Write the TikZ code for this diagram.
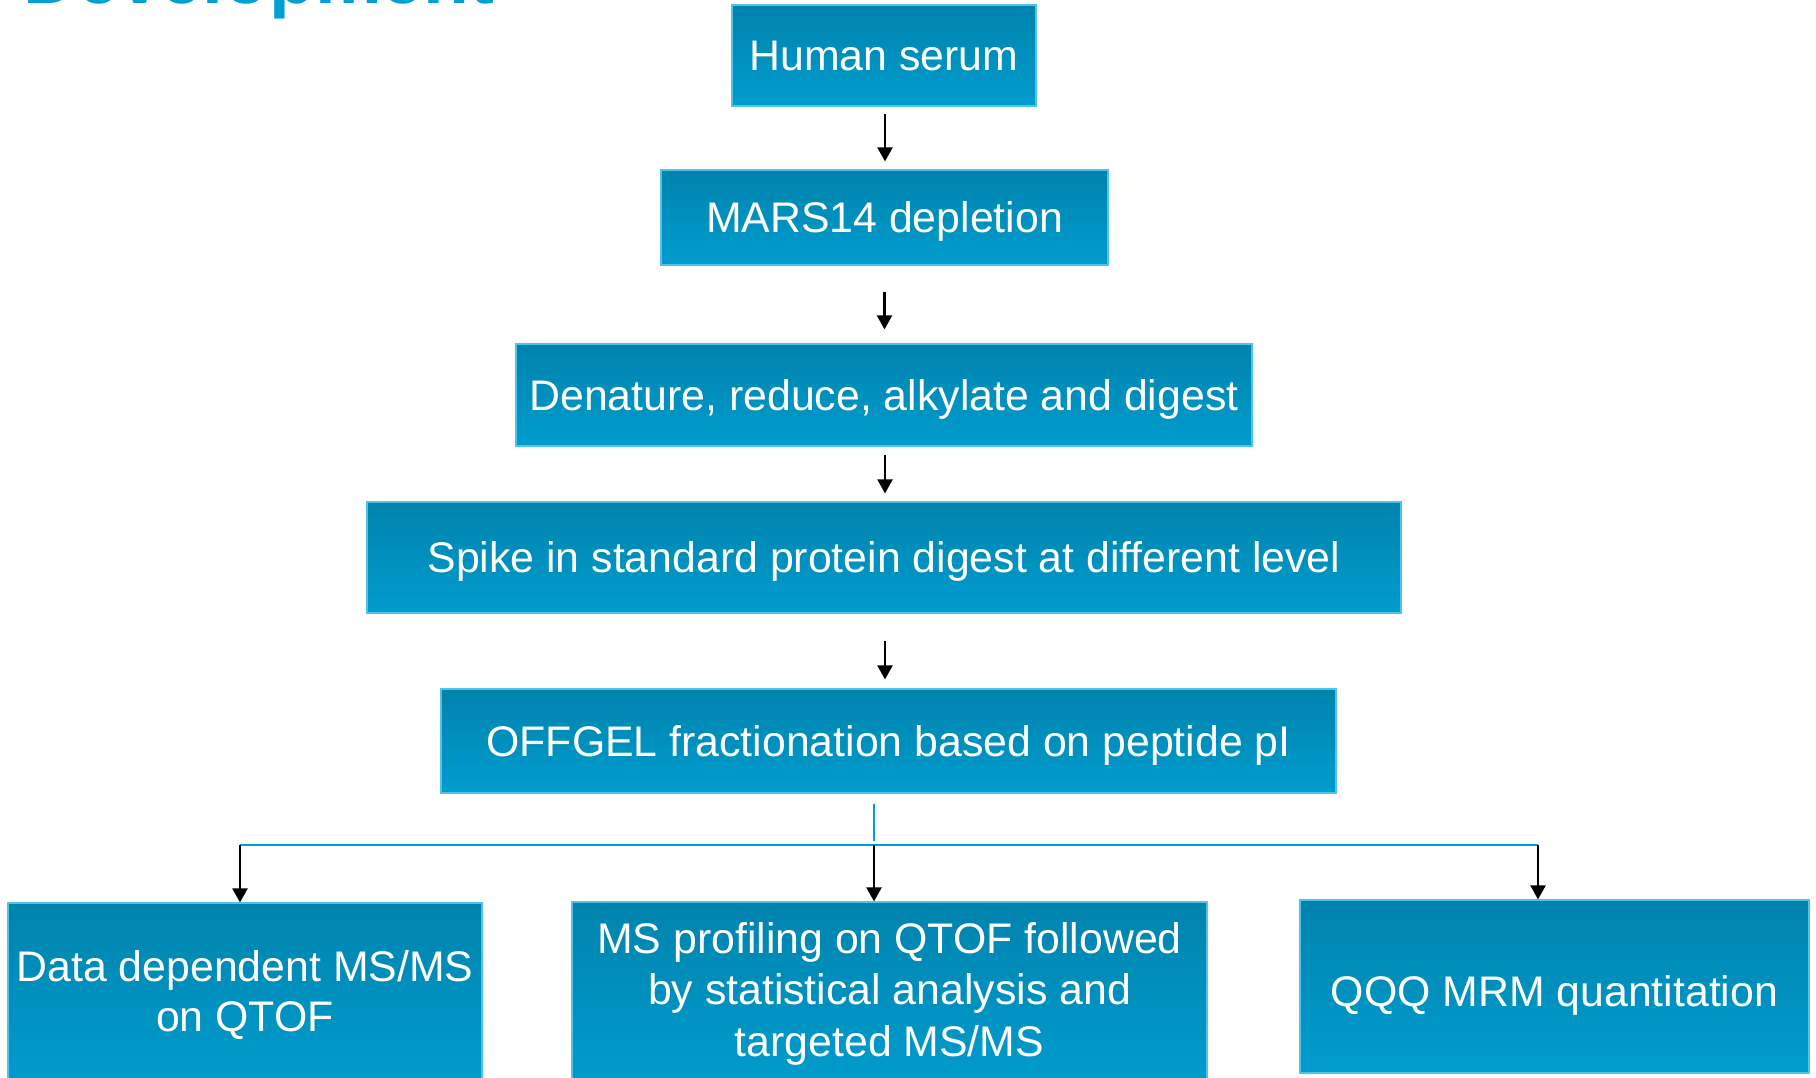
\documentclass[tikz,border=0pt]{standalone}
\usepackage{fontspec}
\setmainfont{Liberation Sans}
\usetikzlibrary{arrows.meta}
\definecolor{boxtop}{RGB}{0,131,173}
\definecolor{boxbot}{RGB}{0,156,206}
\definecolor{boxedge}{RGB}{80,195,235}
\definecolor{linkblue}{RGB}{0,158,212}
\definecolor{titleblue}{RGB}{0,160,214}
\begin{document}
\begin{tikzpicture}[x=0.5pt,y=-0.5pt,
 boxbase/.style={draw=boxedge, line width=0.6pt, top color=boxtop, bottom color=boxbot, text=white, font=\fontsize{21.4}{25.6}\selectfont, align=center, inner sep=0pt},
 box/.style={boxbase, text height=15.3pt, text depth=0pt},
 arr/.style={draw=black, line width=1.1pt, -{Triangle[length=7pt,width=7.5pt]}},
 link/.style={draw=linkblue, line width=1pt}]
\useasboundingbox (0,0) rectangle (1816,1077);
\node[anchor=base west, font=\fontsize{37.5}{44}\selectfont\bfseries, text=titleblue, inner sep=0pt] (title) at (23,3) {Development};

\node[box, minimum width=152pt, minimum height=50.5pt] (serum) at (884,55.5) {Human serum};
\node[box, minimum width=223.5pt, minimum height=47.5pt] (mars) at (884.5,217.5) {MARS14 depletion};
\node[box, minimum width=368pt, minimum height=51pt] (den) at (884,395) {Denature, reduce, alkylate and digest};
\node[box, minimum width=517pt, minimum height=55.5pt] (spike) at (884,557.5) {Spike in standard protein digest at different level};
\node[box, minimum width=447.5pt, minimum height=52pt] (off) at (888.5,741) {OFFGEL fractionation based on peptide pI};

\node[boxbase, font=\fontsize{21.4}{25}\selectfont, minimum width=237pt, minimum height=91.6pt] (data) at (245,994.6) {Data dependent MS/MS\\on QTOF};
\node[boxbase, font=\fontsize{21.4}{25.75}\selectfont, minimum width=317.5pt, minimum height=91.5pt] (ms) at (889.5,993.5) {MS profiling on QTOF followed\\by statistical analysis and\\targeted MS/MS};
\node[box, text height=19.8pt, minimum width=254.5pt, minimum height=86.5pt] (qqq) at (1554.5,986.5) {QQQ MRM quantitation};

\draw[arr, shorten <=3.5pt, shorten >=4pt] ([xshift=0.5pt]serum.south) -- ([xshift=0.5pt]serum.south |- mars.north);
\draw[arr, shorten <=13pt, shorten >=7pt] (mars.south) -- (mars.south |- den.north);
\draw[arr, shorten <=4pt, shorten >=4pt] ([xshift=0.5pt]den.south) -- ([xshift=0.5pt]den.south |- spike.north);
\draw[arr, shorten <=13.5pt, shorten >=4.5pt] ([xshift=0.5pt]spike.south) -- ([xshift=0.5pt]spike.south |- off.north);

\coordinate (hl) at (240,845);
\coordinate (hm) at (874,845);
\coordinate (hr) at (1538,845);
\draw[link, line width=1.4pt] ([xshift=-7.25pt,yshift=-5pt]off.south) -- ++(0,37);
\draw[link] (hl) -- (hr);
\draw[arr] (hl) -- (hl |- data.north);
\draw[arr] (hm) -- (hm |- ms.north);
\draw[arr] (hr) -- (hr |- qqq.north);
\end{tikzpicture}
\end{document}
